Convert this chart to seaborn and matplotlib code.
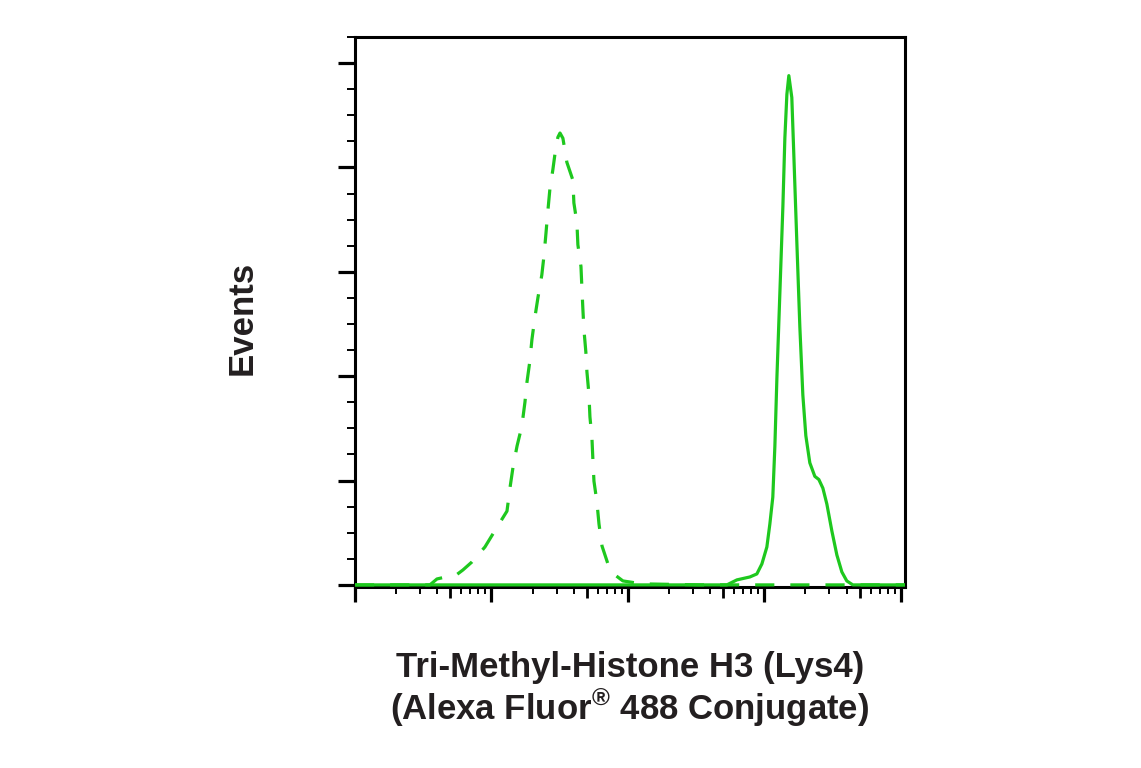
import numpy as np
import pandas as pd
import seaborn as sns
import matplotlib.pyplot as plt
from matplotlib.ticker import LogLocator, MultipleLocator, NullFormatter

sns.set_theme(style="white")
plt.rcParams['font.family'] = ['Liberation Sans', 'DejaVu Sans']
plt.rcParams['mathtext.fontset'] = 'custom'
plt.rcParams['mathtext.rm'] = 'Liberation Sans:bold'

# isotype control (dashed) - fluorescence intensity vs events
control_x = [1.0, 3.54, 3.99, 4.64, 5.41, 6.18, 7.20, 8.96, 11.0, 13.0, 13.7, 14.4, 15.4,
             16.7, 17.6, 18.2, 19.1, 19.8, 20.8, 21.9, 23.4, 24.3, 25.1, 25.9, 26.8, 28.2,
             29.7, 30.7, 31.8, 33.4, 35.7, 39.5, 40.2, 42.3, 43.0, 45.3, 46.0, 46.8, 47.6,
             49.2, 50.1, 51.8, 52.7, 54.5, 55.4, 56.4, 59.3, 61.4, 64.6, 71.4, 80.3, 91.9,
             127, 337, 10700]
control_y = [0, 0, 5.7, 7.6, 8.6, 14.3, 22.0, 36.3, 55.4, 70.7, 93.7, 113, 133,
             152, 175, 194, 214, 235, 256, 275, 297, 316, 337, 358, 379, 398,
             420, 429, 433, 428, 405, 388, 366, 347, 326, 305, 285, 264, 245,
             223, 204, 183, 161, 141, 120, 99.4, 79.3, 58.3, 37.3, 20.1, 9.6, 3.8,
             1.0, 0, 0]

# Tri-Methyl-Histone H3 (Lys4) stained (solid)
stained_x = [1.0, 337, 531, 629, 783, 881, 959, 1043, 1097, 1153, 1194, 1236, 1300,
             1367, 1413, 1462, 1511, 1589, 1644, 1729, 1820, 1914, 2013, 2153, 2343,
             2507, 2684, 2871, 3124, 3398, 3697, 4018, 4446, 10700]
stained_y = [0, 0, 0, 4.8, 7.6, 10.5, 20.1, 36.3, 58.3, 84.1, 133, 199, 281,
             363, 428, 470, 488, 467, 412, 329, 247, 182, 143, 117, 104,
             101, 92.7, 77.4, 51.6, 28.7, 12.4, 3.8, 0, 0]

green = '#1ec81e'

fig = plt.figure(figsize=(11.41, 7.68), dpi=100)
ax = fig.add_axes([0.3111, 0.2357, 0.4820, 0.7161])

ctrl = pd.DataFrame({'x': control_x, 'y': control_y})
stain = pd.DataFrame({'x': stained_x, 'y': stained_y})

sns.lineplot(data=ctrl, x='x', y='y', ax=ax, color=green, lw=2.3, estimator=None,
             linestyle=(0, (6.0, 5.0)), zorder=3)
sns.lineplot(data=stain, x='x', y='y', ax=ax, color=green, lw=2.3, estimator=None, zorder=3)

ax.set_xscale('log')
ax.set_xlim(1, 10 ** 4.03)
ax.set_ylim(-2, 525)

ax.xaxis.set_major_locator(LogLocator(base=10, numticks=10))
ax.xaxis.set_minor_locator(LogLocator(base=10, subs=np.arange(2, 10), numticks=20))
ax.xaxis.set_major_formatter(NullFormatter())
ax.xaxis.set_minor_formatter(NullFormatter())
ax.yaxis.set_major_locator(MultipleLocator(100))
ax.yaxis.set_minor_locator(MultipleLocator(25))
ax.yaxis.set_major_formatter(NullFormatter())

for s in ax.spines.values():
    s.set_color('black')
    s.set_linewidth(2.2)

ax.tick_params(axis='both', which='both', direction='out', color='black')
ax.tick_params(axis='x', which='major', bottom=True, length=11, width=2.3)
ax.tick_params(axis='x', which='minor', bottom=True, length=5, width=1.4)
ax.tick_params(axis='y', which='major', left=True, length=12, width=2.3)
ax.tick_params(axis='y', which='minor', left=True, length=6, width=1.4)

# longer ticks at the 5s of each decade
locs = ax.xaxis.get_minorticklocs()
for loc, tick in zip(locs, ax.xaxis.get_minor_ticks(len(locs))):
    if round(loc / 10 ** np.floor(np.log10(loc) + 1e-9)) == 5:
        tick.tick1line.set_markersize(8)
        tick.tick1line.set_markeredgewidth(2.0)

ax.set_xlabel('Tri-Methyl-Histone H3 (Lys4)\n(Alexa Fluor$^{\\mathrm{®}}$ 488 Conjugate)',
              fontsize=25, fontweight='bold', color='#231f20', linespacing=1.08)
ax.set_ylabel('Events', fontsize=25, fontweight='bold', color='#231f20')
ax.xaxis.set_label_coords(0.5, -0.116)
ax.yaxis.set_label_coords(-0.175, 0.489)

fig.savefig('out.png', dpi=100)
